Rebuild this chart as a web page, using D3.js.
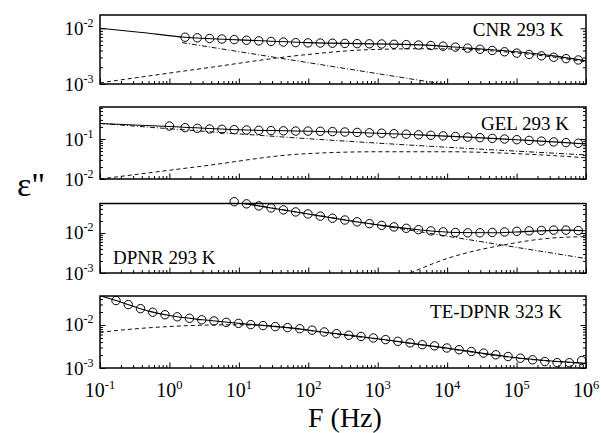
<!DOCTYPE html>
<html>
<head>
<meta charset="utf-8">
<script src="https://cdn.jsdelivr.net/npm/d3@7"></script>
<style>
  body { margin: 0; background: #fff; }
  svg { display: block; }
  text { font-family: "Liberation Serif", "Times New Roman", serif; fill: #000; }
</style>
</head>
<body>
<svg id="chart" width="601" height="433"></svg>
<script>
// ---- measured frequencies (Hz) ----
const freqGrid = [1.68, 2.52, 3.79, 5.70, 8.57, 12.9, 19.4, 29.1, 43.8, 65.8, 98.9, 149, 223, 336, 505,
  759, 1140, 1714, 2576, 3873, 5821, 8750, 13150, 19770, 29720, 44670, 67140, 100900, 151700,
  228000, 342700, 515200, 774500];
const teFreq = [0.170, 0.255, 0.383, 0.575, 0.863, 1.296, 1.945, 2.92, 4.385, 6.58, 9.886, 14.84, 22.28,
  33.45, 50.23, 75.42, 113.2, 170.0, 255.3, 383.3, 575.4, 864.0, 1297, 1948, 2924, 4390, 6592, 9897,
  14860, 22310, 33500, 50290, 75510, 113400, 170200, 255600, 383700, 576100, 865000];

// ---- CNR 293 K ----
const cnrEps = [6.92e-3, 6.75e-3, 6.57e-3, 6.42e-3, 6.27e-3, 6.11e-3, 5.96e-3, 5.81e-3, 5.67e-3, 5.53e-3,
  5.48e-3, 5.44e-3, 5.40e-3, 5.35e-3, 5.31e-3, 5.27e-3, 5.23e-3, 5.16e-3, 5.10e-3, 5.01e-3, 4.91e-3,
  4.77e-3, 4.60e-3, 4.41e-3, 4.21e-3, 4.00e-3, 3.79e-3, 3.59e-3, 3.39e-3, 3.20e-3, 3.02e-3, 2.85e-3, 2.70e-3];
const cnrFit = [[0.1, 0.0100], [0.4, 0.0084], [1.68, 0.0069], [10, 0.0062], [100, 0.00553], [1000, 0.00525],
  [5000, 0.0050], [2e4, 0.0044], [1e5, 0.0038], [3.4e5, 0.0032], [1e6, 0.0026]];
const cnrCond = [[1.52, 0.00553], [8700, 0.0010]];
const cnrRelax = [[0.1, 1.05e-3], [3, 1.9e-3], [80, 3.3e-3], [800, 4.15e-3], [5000, 4.3e-3], [3e4, 4.05e-3],
  [2e5, 3.3e-3], [1e6, 2.5e-3]];

// ---- GEL 293 K ----
const gelFreq = [1].concat(freqGrid);
const gelEps = [0.211, 0.192, 0.185, 0.178, 0.175, 0.171, 0.168, 0.165, 0.162, 0.160, 0.158,
  0.1576, 0.1558, 0.1531, 0.1496, 0.1462, 0.1429, 0.1396, 0.1357, 0.1318, 0.1274, 0.1238, 0.1196,
  0.1155, 0.1115, 0.1078, 0.1035, 0.100, 0.0961, 0.0923, 0.0886, 0.0846, 0.0813, 0.0781];
const gelFit = [[0.1, 0.245], [1, 0.206], [10, 0.170], [65.8, 0.159], [505, 0.146], [3873, 0.127],
  [19770, 0.1115], [1e5, 0.096], [5.15e5, 0.0813], [1e6, 0.075]];
const gelCond = [[0.1, 0.245], [76, 0.105], [1e6, 0.040]];
const gelRelax = [[0.1, 0.0100], [3, 0.021], [76, 0.042], [1000, 0.048], [1e4, 0.048], [1e5, 0.043], [1e6, 0.034]];

// ---- DPNR 293 K ----
const dpnrFreq = freqGrid.slice(4);
const dpnrEps = [0.0605, 0.0535, 0.0475, 0.0423, 0.0378, 0.0336, 0.0299, 0.0264, 0.0234, 0.0211, 0.0190,
  0.0171, 0.0155, 0.0142, 0.0131, 0.0121, 0.0113, 0.0107, 0.0103, 0.0101, 0.0101, 0.0103, 0.0106,
  0.0110, 0.0113, 0.0116, 0.0118, 0.0118, 0.0115];
const dpnrFit = [[3, 0.080], [8.57, 0.0605], [29.1, 0.0423], [98.9, 0.0299], [336, 0.0211], [1140, 0.0155],
  [3873, 0.0121], [13150, 0.0103], [44670, 0.0101], [151700, 0.0110], [515200, 0.0118], [1e6, 0.0114]];
const dpnrCond = [[3, 0.080], [1e6, 0.0023]];
const dpnrRelax = [[2950, 1.0e-3], [1e4, 2.3e-3], [6.4e4, 5.0e-3], [3e5, 7.4e-3], [1e6, 8.1e-3]];

// ---- TE-DPNR 323 K ----
const teEps = [0.0370, 0.0298, 0.0240, 0.0198, 0.0173, 0.0155, 0.0143, 0.0132, 0.0124, 0.0115, 0.0109,
  0.0102, 0.00968, 0.00916, 0.00869, 0.00819, 0.00759, 0.00688, 0.00627, 0.00578, 0.00541, 0.00499,
  0.00457, 0.00417, 0.00383, 0.00348, 0.00327, 0.00292, 0.00266, 0.00242, 0.00222, 0.00203, 0.00185,
  0.00169, 0.00155, 0.00141, 0.00133, 0.00133, 0.00149];
const teFit = [[0.1, 0.048], [0.17, 0.037], [0.5, 0.0210], [1, 0.0166], [3, 0.0132], [10, 0.0109],
  [50, 0.0087], [200, 0.0066], [1000, 0.0048], [1e4, 0.0029], [1e5, 0.00173], [1e6, 0.00128]];
const teRelax = [[0.1, 0.0068], [0.5, 0.0086], [2, 0.0097], [8, 0.0101], [25, 0.0097], [60, 0.0084],
  [200, 0.0064], [1000, 0.0047], [1e4, 0.00285], [1e5, 0.0017], [1e6, 0.00126]];

// ---- axis ticks ----
const xDecades = [0.1, 1, 10, 100, 1e3, 1e4, 1e5, 1e6];
const xTickExp = ["-1", "0", "1", "2", "3", "4", "5", "6"];

// ---- layout ----
const X0 = 100, X1 = 586;
const panels = [
  { name: "CNR 293 K", top: 15, bottom: 84, yMin: 1e-3, yMax: 0.01734,
    freq: freqGrid, eps: cnrEps, fit: cnrFit, cond: cnrCond, relax: cnrRelax,
    lab: { x: 563.5, y: 36, anchor: "end" } },
  { name: "GEL 293 K", top: 107, bottom: 179, yMin: 1e-2, yMax: 0.631,
    freq: gelFreq, eps: gelEps, fit: gelFit, cond: gelCond, relax: gelRelax,
    lab: { x: 569, y: 129.5, anchor: "end" } },
  { name: "DPNR 293 K", top: 203.5, bottom: 273, yMin: 1e-3, yMax: 0.0546,
    freq: dpnrFreq, eps: dpnrEps, fit: dpnrFit, cond: dpnrCond, relax: dpnrRelax,
    lab: { x: 113, y: 263.5, anchor: "start" } },
  { name: "TE-DPNR 323 K", top: 296, bottom: 368, yMin: 1e-3, yMax: 0.0472,
    freq: teFreq, eps: teEps, fit: teFit, cond: null, relax: teRelax,
    lab: { x: 562, y: 318, anchor: "end" } }
];

const svg = d3.select("#chart");
const x = d3.scaleLog().domain([0.1, 1e6]).range([X0, X1]);
const isDecade = v => Math.abs(Math.log10(v) - Math.round(Math.log10(v))) < 1e-6;
const xTicks = x.ticks();
const xMajor = xTicks.filter(isDecade), xMinor = xTicks.filter(v => !isDecade(v));

panels.forEach((p, i) => {
  const y = d3.scaleLog().domain([p.yMin, p.yMax]).range([p.bottom, p.top]);
  const g = svg.append("g");
  const clipId = "clip" + i;
  svg.append("clipPath").attr("id", clipId).append("rect")
    .attr("x", X0).attr("y", p.top).attr("width", X1 - X0).attr("height", p.bottom - p.top);

  // ticks, all pointing into the plot
  const yTicks = y.ticks().filter(v => v >= p.yMin && v <= p.yMax * 1.0001);
  const yMajor = yTicks.filter(isDecade), yMinor = yTicks.filter(v => !isDecade(v));
  const addAxis = (axis, tx, ty) => {
    const a = g.append("g").attr("transform", `translate(${tx},${ty})`).call(axis);
    a.select(".domain").remove();
    a.selectAll("line").attr("stroke", "#000").attr("stroke-width", 1);
    a.selectAll("text").remove();
  };
  addAxis(d3.axisBottom(x).tickValues(xMajor).tickSize(-5.5).tickSizeOuter(0), 0, p.bottom);
  addAxis(d3.axisBottom(x).tickValues(xMinor).tickSize(-3).tickSizeOuter(0), 0, p.bottom);
  addAxis(d3.axisLeft(y).tickValues(yMajor).tickSize(-5.5).tickSizeOuter(0), X0, 0);
  addAxis(d3.axisLeft(y).tickValues(yMinor).tickSize(-3).tickSizeOuter(0), X0, 0);
  addAxis(d3.axisRight(y).tickValues(yMajor).tickSize(-5.5).tickSizeOuter(0), X1, 0);
  addAxis(d3.axisRight(y).tickValues(yMinor).tickSize(-3).tickSizeOuter(0), X1, 0);

  // y tick labels: 10 with superscript exponent
  yMajor.forEach(v => {
    const t = g.append("text").attr("x", 93.5).attr("y", y(v) + 6.5)
      .attr("text-anchor", "end").attr("font-size", 19);
    t.append("tspan").text("10");
    t.append("tspan").attr("dy", -8).attr("font-size", 12).text(String(Math.round(Math.log10(v))));
  });

  const line = d3.line().x(d => x(d[0])).y(d => y(d[1])).curve(d3.curveMonotoneX);
  const lines = g.append("g").attr("clip-path", `url(#${clipId})`).attr("fill", "none");
  if (p.cond) lines.append("path").attr("d", line(p.cond))
    .attr("stroke", "#111").attr("stroke-width", 1).attr("stroke-dasharray", "5,2,1,2");
  lines.append("path").attr("d", line(p.relax))
    .attr("stroke", "#111").attr("stroke-width", 1).attr("stroke-dasharray", "4,3");
  lines.append("path").attr("d", line(p.fit))
    .attr("stroke", "#000").attr("stroke-width", 1.1);

  // measured points
  g.append("g").selectAll("circle").data(p.freq.map((f, k) => [f, p.eps[k]])).join("circle")
    .attr("cx", d => x(d[0])).attr("cy", d => y(d[1])).attr("r", 4.2)
    .attr("fill", "none").attr("stroke", "#000").attr("stroke-width", 1);

  // frame
  g.append("rect").attr("x", X0).attr("y", p.top).attr("width", X1 - X0).attr("height", p.bottom - p.top)
    .attr("fill", "none").attr("stroke", "#000").attr("stroke-width", 1.5);

  g.append("text").attr("x", p.lab.x).attr("y", p.lab.y).attr("text-anchor", p.lab.anchor)
    .attr("font-size", 19).text(p.name);
});

// x tick labels under the last panel
const last = panels[panels.length - 1];
xDecades.forEach((v, k) => {
  const t = svg.append("text").attr("x", x(v)).attr("y", last.bottom + 29)
    .attr("text-anchor", "middle").attr("font-size", 20);
  t.append("tspan").text("10");
  t.append("tspan").attr("dy", -8).attr("font-size", 12.5).text(xTickExp[k]);
});

// axis titles
svg.append("text").attr("x", 17).attr("y", 196).attr("font-size", 34).text("ε\"");
svg.append("text").attr("x", 308).attr("y", 427).attr("font-size", 28).text("F (Hz)");
</script>
</body>
</html>
